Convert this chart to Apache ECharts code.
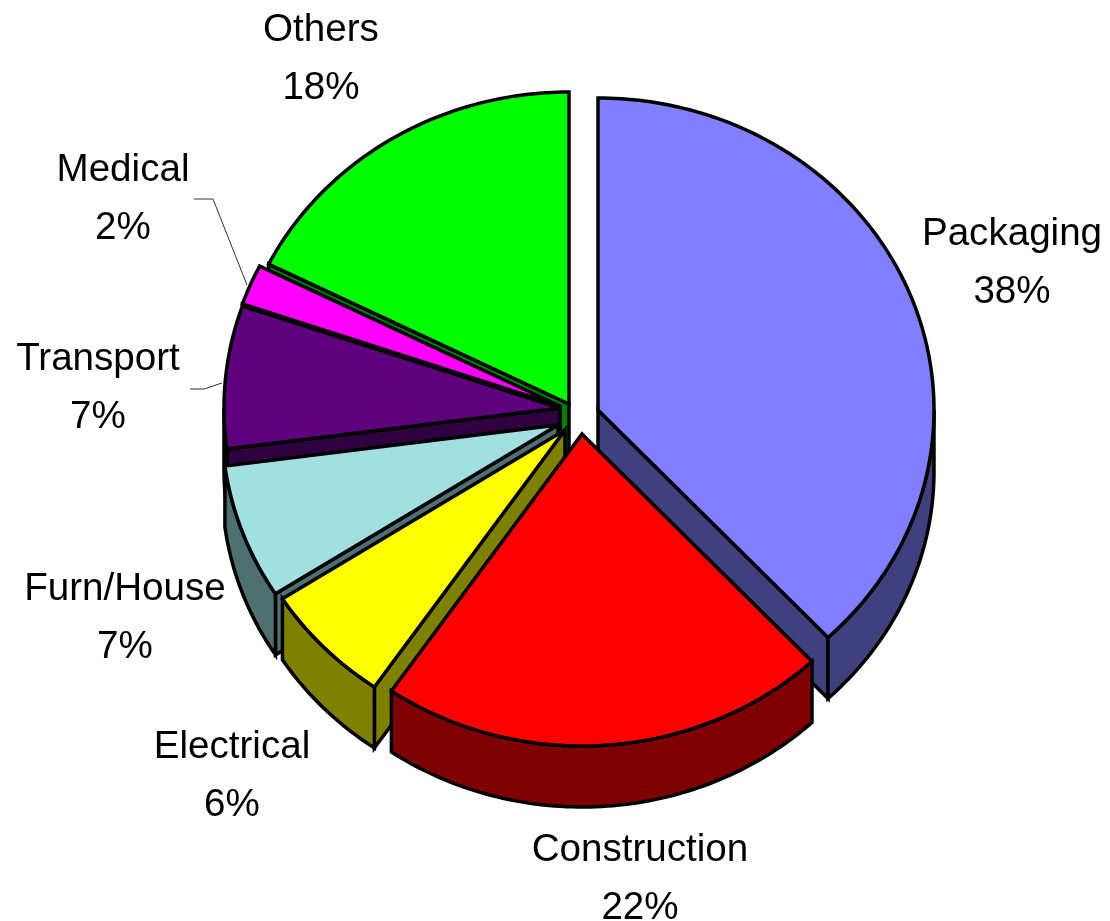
<!DOCTYPE html>
<html>
<head>
<meta charset="utf-8">
<style>html,body{margin:0;padding:0;background:#fff}#c{width:1110px;height:921px}</style>
<script src="https://cdn.jsdelivr.net/npm/echarts@6/dist/echarts.min.js"></script>
</head>
<body>
<div id="c"></div>
<script>
// Data
const categories = ['Packaging','Construction','Electrical','Furn/House','Transport','Medical','Others'];
const shares = [38, 21.6, 6.3, 7.0, 7.4, 2.1, 17.6];
const topColors = ['#8080FF','#FF0000','#FFFF00','#A2DFE0','#5F007F','#FF00FF','#00FF00'];
const wallColors = ['#40407F','#7F0000','#7F7F00','#4F7070','#2F003F','#7F007F','#007F00'];

// Layout (exploded slice apexes, label centres, leaders)
const apexes = [[598,410],[582,434],[565,430],[558,425],[560,408],[560,406],[569,404]];
const labelCentres = [[1012,263],[640,879],[232,776],[125,618],[98,388],[123,199],[321,59]];
const leaders = {4:[[190,389],[204,389],[222,383]], 5:[[194,199],[213,199],[247,285]]};
const drawOrder = [6,5,4,3,2,0,1];
const RX = 336, RY = 312, DEPTH = 61, EDGE = 3.5;

const total = shares.reduce((a,b)=>a+b,0);
const starts = []; let run = 0;
shares.forEach(v=>{starts.push(run/total*360); run += v;});

function pt(a, t, dy){
  const r = t*Math.PI/180;
  return [a[0]+RX*Math.sin(r), a[1]-RY*Math.cos(r)+(dy||0)];
}
function arc(a, s, e, dy){
  const out = [], n = Math.max(2, Math.ceil((e-s)/1));
  for(let i=0;i<=n;i++) out.push(pt(a, s+(e-s)*i/n, dy));
  return out;
}
function poly(points, fill, z){
  return {type:'polygon', z2:z, shape:{points}, style:{fill, stroke:'#000', lineWidth:EDGE, lineJoin:'miter', miterLimit:4}};
}

function renderItem(params, api){
  const i = api.value(0), s = api.value(1), e = api.value(2);
  const a = apexes[i], kids = [];
  const down = [a[0], a[1]+DEPTH];
  const wall = wallColors[i], top = topColors[i];
  // radial cut faces turned toward the viewer
  if(s >= 180){ const p = pt(a,s); kids.push(poly([a,p,[p[0],p[1]+DEPTH],down], wall, 1)); }
  if(e <= 180){ const p = pt(a,e); kids.push(poly([a,p,[p[0],p[1]+DEPTH],down], wall, 1)); }
  // outer rim
  const rs = Math.max(s,90), re = Math.min(e,270);
  if(re > rs){
    kids.push(poly(arc(a,rs,re,0).concat(arc(a,rs,re,DEPTH).reverse()), wall, 2));
  }
  // top face
  kids.push(poly([a].concat(arc(a,s,e,0)), top, 3));
  // leader
  if(leaders[i]){
    kids.push({type:'polyline', z2:4, shape:{points:leaders[i]}, style:{fill:null, stroke:'#333', lineWidth:1}});
  }
  // label
  kids.push({type:'text', z2:5, style:{
    x:labelCentres[i][0], y:labelCentres[i][1],
    text:categories[i]+'\n'+Math.round(shares[i])+'%',
    font:'38.6px "Liberation Sans", Arial, sans-serif',
    lineHeight:58, fill:'#000', align:'center', verticalAlign:'middle'
  }});
  return {type:'group', children:kids};
}

const rows = drawOrder.map(i => [i, starts[i], starts[i]+shares[i]/total*360]);

const chart = echarts.init(document.getElementById('c'), null, {renderer:'canvas', width:1110, height:921});
chart.setOption({
  backgroundColor:'#fff',
  animation:false,
  series:[{
    type:'custom',
    coordinateSystem:'none',
    renderItem,
    data:rows,
    silent:true
  }]
});
</script>
</body>
</html>
